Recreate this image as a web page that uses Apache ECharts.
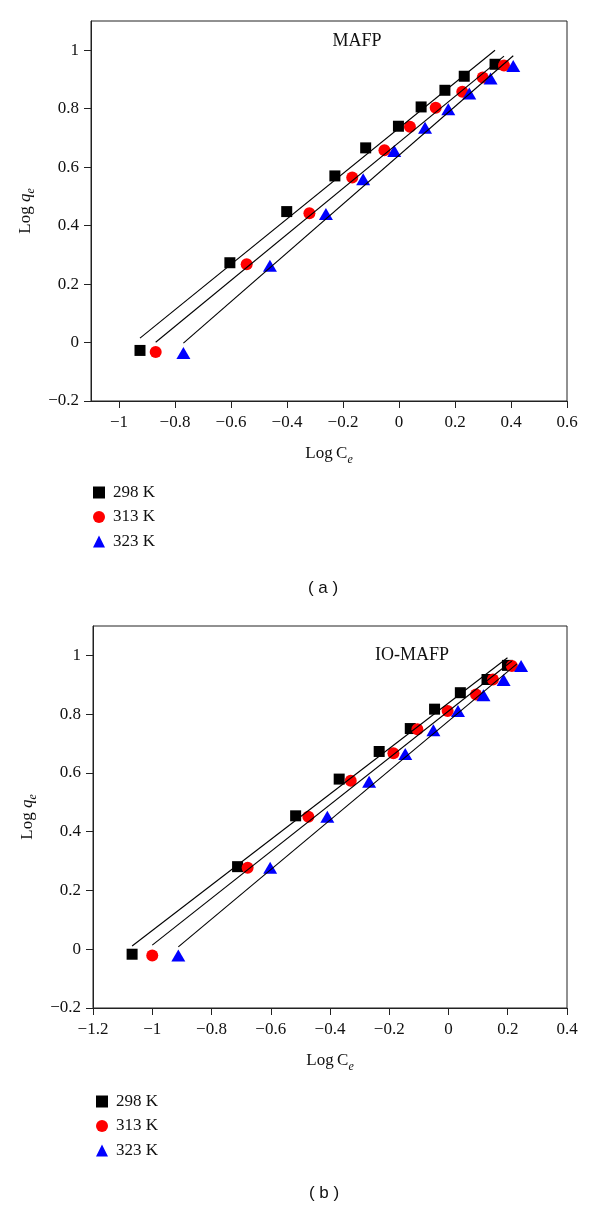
<!DOCTYPE html>
<html>
<head>
<meta charset="utf-8">
<script src="https://cdn.jsdelivr.net/npm/echarts@6/dist/echarts.min.js"></script>
<style>html,body{margin:0;padding:0;background:#fff}#c{width:600px;height:1210px}</style>
</head>
<body>
<div id="c"></div>
<script>
// ---------- data ----------
const seriesNames = ['298 K', '313 K', '323 K'];
const panelTitles = ['MAFP', 'IO-MAFP'];
const panelTags = ['( a )', '( b )'];

const xTicksA = [-1, -0.8, -0.6, -0.4, -0.2, 0, 0.2, 0.4, 0.6];
const xTicksB = [-1.2, -1, -0.8, -0.6, -0.4, -0.2, 0, 0.2, 0.4];
const yTicks = [-0.2, 0, 0.2, 0.4, 0.6, 0.8, 1];

// Panel (a) MAFP
const a298 = [[-0.925,-0.027],[-0.604,0.273],[-0.401,0.448],[-0.229,0.570],[-0.119,0.666],[-0.002,0.740],[0.079,0.806],[0.164,0.863],[0.233,0.911],[0.343,0.952]];
const a313 = [[-0.869,-0.032],[-0.544,0.268],[-0.320,0.442],[-0.167,0.565],[-0.052,0.658],[0.039,0.738],[0.131,0.803],[0.226,0.858],[0.299,0.907],[0.375,0.948]];
const a323 = [[-0.770,-0.036],[-0.461,0.263],[-0.261,0.440],[-0.128,0.559],[-0.017,0.655],[0.093,0.735],[0.176,0.798],[0.251,0.852],[0.327,0.903],[0.408,0.946]];
const aFit298 = [[-0.925,0.015],[0.343,1.000]];
const aFit313 = [[-0.869,0.001],[0.375,0.980]];
const aFit323 = [[-0.770,-0.002],[0.408,0.981]];

// Panel (b) IO-MAFP
const b298 = [[-1.068,-0.017],[-0.712,0.281],[-0.516,0.454],[-0.369,0.579],[-0.234,0.673],[-0.129,0.751],[-0.047,0.817],[0.040,0.873],[0.130,0.918],[0.199,0.966]];
const b313 = [[-1.000,-0.021],[-0.678,0.277],[-0.473,0.451],[-0.330,0.573],[-0.186,0.667],[-0.105,0.749],[-0.003,0.811],[0.093,0.867],[0.150,0.918],[0.214,0.964]];
const b323 = [[-0.912,-0.021],[-0.602,0.277],[-0.409,0.451],[-0.268,0.570],[-0.146,0.664],[-0.051,0.745],[0.032,0.811],[0.118,0.864],[0.186,0.916],[0.245,0.964]];
const bFit298 = [[-1.068,0.011],[0.199,0.992]];
const bFit313 = [[-1.000,0.014],[0.214,0.981]];
const bFit323 = [[-0.912,0.008],[0.231,0.971]];

// ---------- styling ----------
const SERIF = '"Liberation Serif", "DejaVu Serif", serif';
const SANS = '"Liberation Sans", Arial, sans-serif';
const INK = '#111';
const FRAME = '#222';
const colors = ['#000000', '#ff0000', '#0000ff'];
const symbols = ['rect', 'circle', 'triangle'];
const symbolSizes = [11, 12, [14, 12]];

function fmt(v) {
  const r = Math.round(v * 10) / 10;
  return r < 0 ? '\u2212' + Math.abs(r) : String(r);
}

const nameRich = {
  a: { fontFamily: SERIF, fontSize: 17, color: INK, lineHeight: 24 },
  i: { fontFamily: SERIF, fontSize: 17, color: INK, lineHeight: 24, fontStyle: 'italic' },
  s: { fontFamily: SERIF, fontSize: 12, color: INK, lineHeight: 12, fontStyle: 'italic', verticalAlign: 'bottom' }
};

function xAxis(gi, min, max, ticks) {
  return {
    gridIndex: gi, type: 'value', min: min, max: max,
    axisLine: { show: true, onZero: false, lineStyle: { color: FRAME, width: 1 } },
    axisTick: { show: true, customValues: ticks, length: 7, lineStyle: { color: FRAME, width: 1 } },
    axisLabel: { customValues: ticks, formatter: fmt, margin: 13, fontFamily: SERIF, fontSize: 17, color: INK },
    splitLine: { show: false },
    name: '{a|Log\u2009C}{s|e}', nameLocation: 'middle', nameGap: 41,
    nameTextStyle: { rich: nameRich }
  };
}
function yAxis(gi) {
  return {
    gridIndex: gi, type: 'value', min: -0.2, max: 1.1,
    axisLine: { show: true, onZero: false, lineStyle: { color: FRAME, width: 1 } },
    axisTick: { show: true, customValues: yTicks, length: 7, lineStyle: { color: FRAME, width: 1 } },
    axisLabel: { customValues: yTicks, formatter: fmt, margin: 12, fontFamily: SERIF, fontSize: 17, color: INK },
    splitLine: { show: false },
    name: '{a|Log }{i|q}{s|e}', nameLocation: 'middle', nameGap: 45,
    nameTextStyle: { rich: nameRich }
  };
}

const series = [];
const panels = [[a298, a313, a323], [b298, b313, b323]];
const fits = [[aFit298, aFit313, aFit323], [bFit298, bFit313, bFit323]];
panels.forEach((sets, gi) => {
  sets.forEach((d, k) => {
    series.push({
      name: seriesNames[k], type: 'scatter', xAxisIndex: gi, yAxisIndex: gi,
      data: d, symbol: symbols[k], symbolSize: symbolSizes[k],
      itemStyle: { color: colors[k], opacity: 1 }, z: 2
    });
  });
  fits[gi].forEach((d, k) => {
    series.push({
      name: 'fit-' + gi + '-' + k, type: 'line', xAxisIndex: gi, yAxisIndex: gi,
      data: d, showSymbol: false, symbol: 'none',
      lineStyle: { color: '#000', width: 1.1 }, z: 3, silent: true
    });
  });
});

function legend(left, top) {
  return {
    orient: 'vertical', left: left, top: top, padding: 0,
    itemWidth: 12, itemHeight: 12, itemGap: 7.5,
    data: seriesNames.map((n, k) => ({ name: n, icon: symbols[k] })),
    textStyle: { fontFamily: SERIF, fontSize: 17, color: INK, padding: [0, 0, 0, 3] },
    selectedMode: false
  };
}

const option = {
  animation: false,
  backgroundColor: '#fff',
  grid: [
    { left: 91, top: 21, width: 476, height: 380, show: true, borderColor: FRAME, borderWidth: 1, backgroundColor: 'transparent' },
    { left: 93, top: 626, width: 474, height: 382, show: true, borderColor: FRAME, borderWidth: 1, backgroundColor: 'transparent' }
  ],
  xAxis: [xAxis(0, -1.1, 0.6, xTicksA), xAxis(1, -1.2, 0.4, xTicksB)],
  yAxis: [yAxis(0), yAxis(1)],
  legend: [legend(93, 484), legend(96, 1093)],
  graphic: [
    { type: 'text', x: 357, y: 41, style: { text: panelTitles[0], fontFamily: SERIF, fontSize: 18, fill: INK, align: 'center', verticalAlign: 'middle' } },
    { type: 'text', x: 412, y: 655, style: { text: panelTitles[1], fontFamily: SERIF, fontSize: 18, fill: INK, align: 'center', verticalAlign: 'middle' } },
    { type: 'text', x: 323, y: 588, style: { text: panelTags[0], fontFamily: SANS, fontSize: 17, fill: INK, align: 'center', verticalAlign: 'middle' } },
    { type: 'text', x: 324, y: 1193, style: { text: panelTags[1], fontFamily: SANS, fontSize: 17, fill: INK, align: 'center', verticalAlign: 'middle' } }
  ],
  series: series
};

const chart = echarts.init(document.getElementById('c'), null, { renderer: 'canvas' });
chart.setOption(option);
</script>
</body>
</html>
